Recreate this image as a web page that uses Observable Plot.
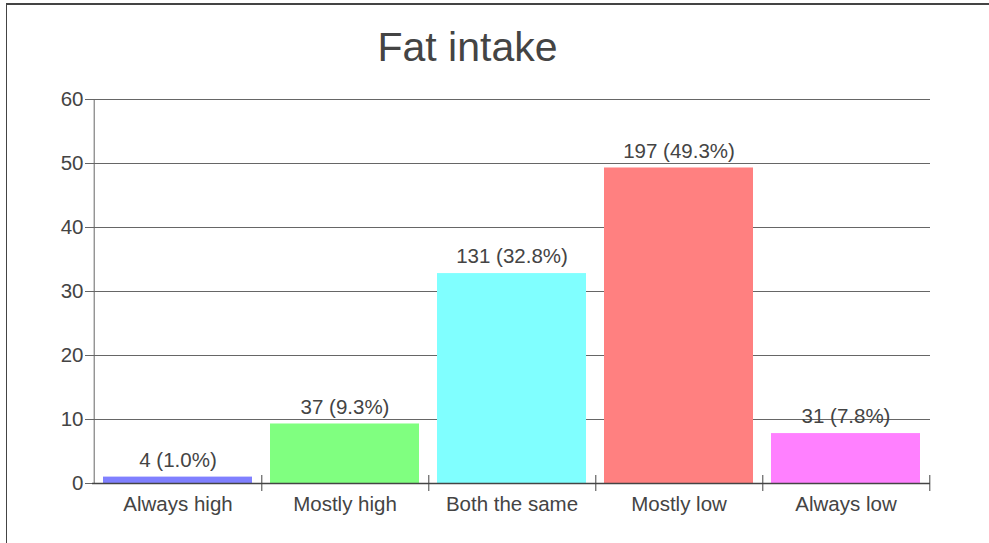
<!DOCTYPE html>
<html>
<head>
<meta charset="utf-8">
<script src="https://cdn.jsdelivr.net/npm/d3@7"></script>
<script src="https://cdn.jsdelivr.net/npm/@observablehq/plot@0.6"></script>
<style>
  html, body { margin: 0; padding: 0; background: #fff; overflow: hidden; }
  #wrap { position: relative; width: 989px; height: 543px; overflow: hidden; }
  #border { position: absolute; left: 6px; top: 3px; width: 1100px; height: 700px;
            border-left: 1.5px solid #444; border-top: 2px solid #444; box-sizing: border-box; }
  #chart { position: absolute; left: 0; top: 0; }
</style>
</head>
<body>
<div id="wrap">
  <div id="border"></div>
  <div id="chart"></div>
</div>
<script>
const title = "Fat intake";
const categories = ["Always high", "Mostly high", "Both the same", "Mostly low", "Always low"];
const counts = [4, 37, 131, 197, 31];
const percents = [1.0, 9.3, 32.8, 49.3, 7.8];
const colors = ["#8080ff", "#80ff80", "#80ffff", "#ff8080", "#ff80ff"];
const yTicks = [0, 10, 20, 30, 40, 50, 60];

const data = categories.map((c, i) => ({
  category: c,
  count: counts[i],
  pct: percents[i],
  color: colors[i],
  label: `${counts[i]} (${percents[i].toFixed(1)}%)`
}));

const W = 989, H = 543, mL = 92, mR = 59;
const half = (W - mL - mR) / categories.length / 2;
const font = "'Liberation Sans', Arial, Helvetica, sans-serif";

const chart = Plot.plot({
  width: W,
  height: H,
  marginLeft: mL,
  marginRight: mR,
  marginTop: 99,
  marginBottom: 60,
  x: {domain: categories, padding: 0, axis: null, label: null},
  y: {domain: [0, 60], axis: null, label: null},
  style: {fontFamily: font, fontSize: "20.5px", color: "#444", background: "transparent", overflow: "visible"},
  marks: [
    Plot.ruleY(yTicks.filter(d => d > 0), {y: d => d, stroke: "#666", strokeOpacity: 1, insetLeft: -7}),
    Plot.ruleY([0], {stroke: "#666", insetLeft: -7}),
    Plot.text(yTicks, {y: d => d, text: d => String(d), frameAnchor: "left", textAnchor: "end", dx: -9, fill: "#444", lineAnchor: "middle"}),
    Plot.barY(data, {x: "category", y: "pct", fill: "color", insetLeft: 9, insetRight: 9}),
    Plot.text(data, {x: "category", y: "pct", text: "label", dy: -17, fill: "#444", lineAnchor: "middle"}),
    Plot.ruleX([categories[0]], {dx: -half, stroke: "#666"}),
    Plot.ruleY([0], {stroke: "#444", strokeWidth: 1.5}),
    Plot.ruleX(categories, {dx: half, y1: 0, y2: 0, insetTop: -8, insetBottom: -8, stroke: "#444"}),
    Plot.text(categories, {x: d => d, text: d => d, frameAnchor: "bottom", lineAnchor: "middle", dy: 21, fill: "#444"}),
    Plot.text([title], {frameAnchor: "top", lineAnchor: "middle", dy: -52, dx: -44, fontSize: 41, fill: "#444"})
  ]
});
document.getElementById("chart").append(chart);
</script>
</body>
</html>
